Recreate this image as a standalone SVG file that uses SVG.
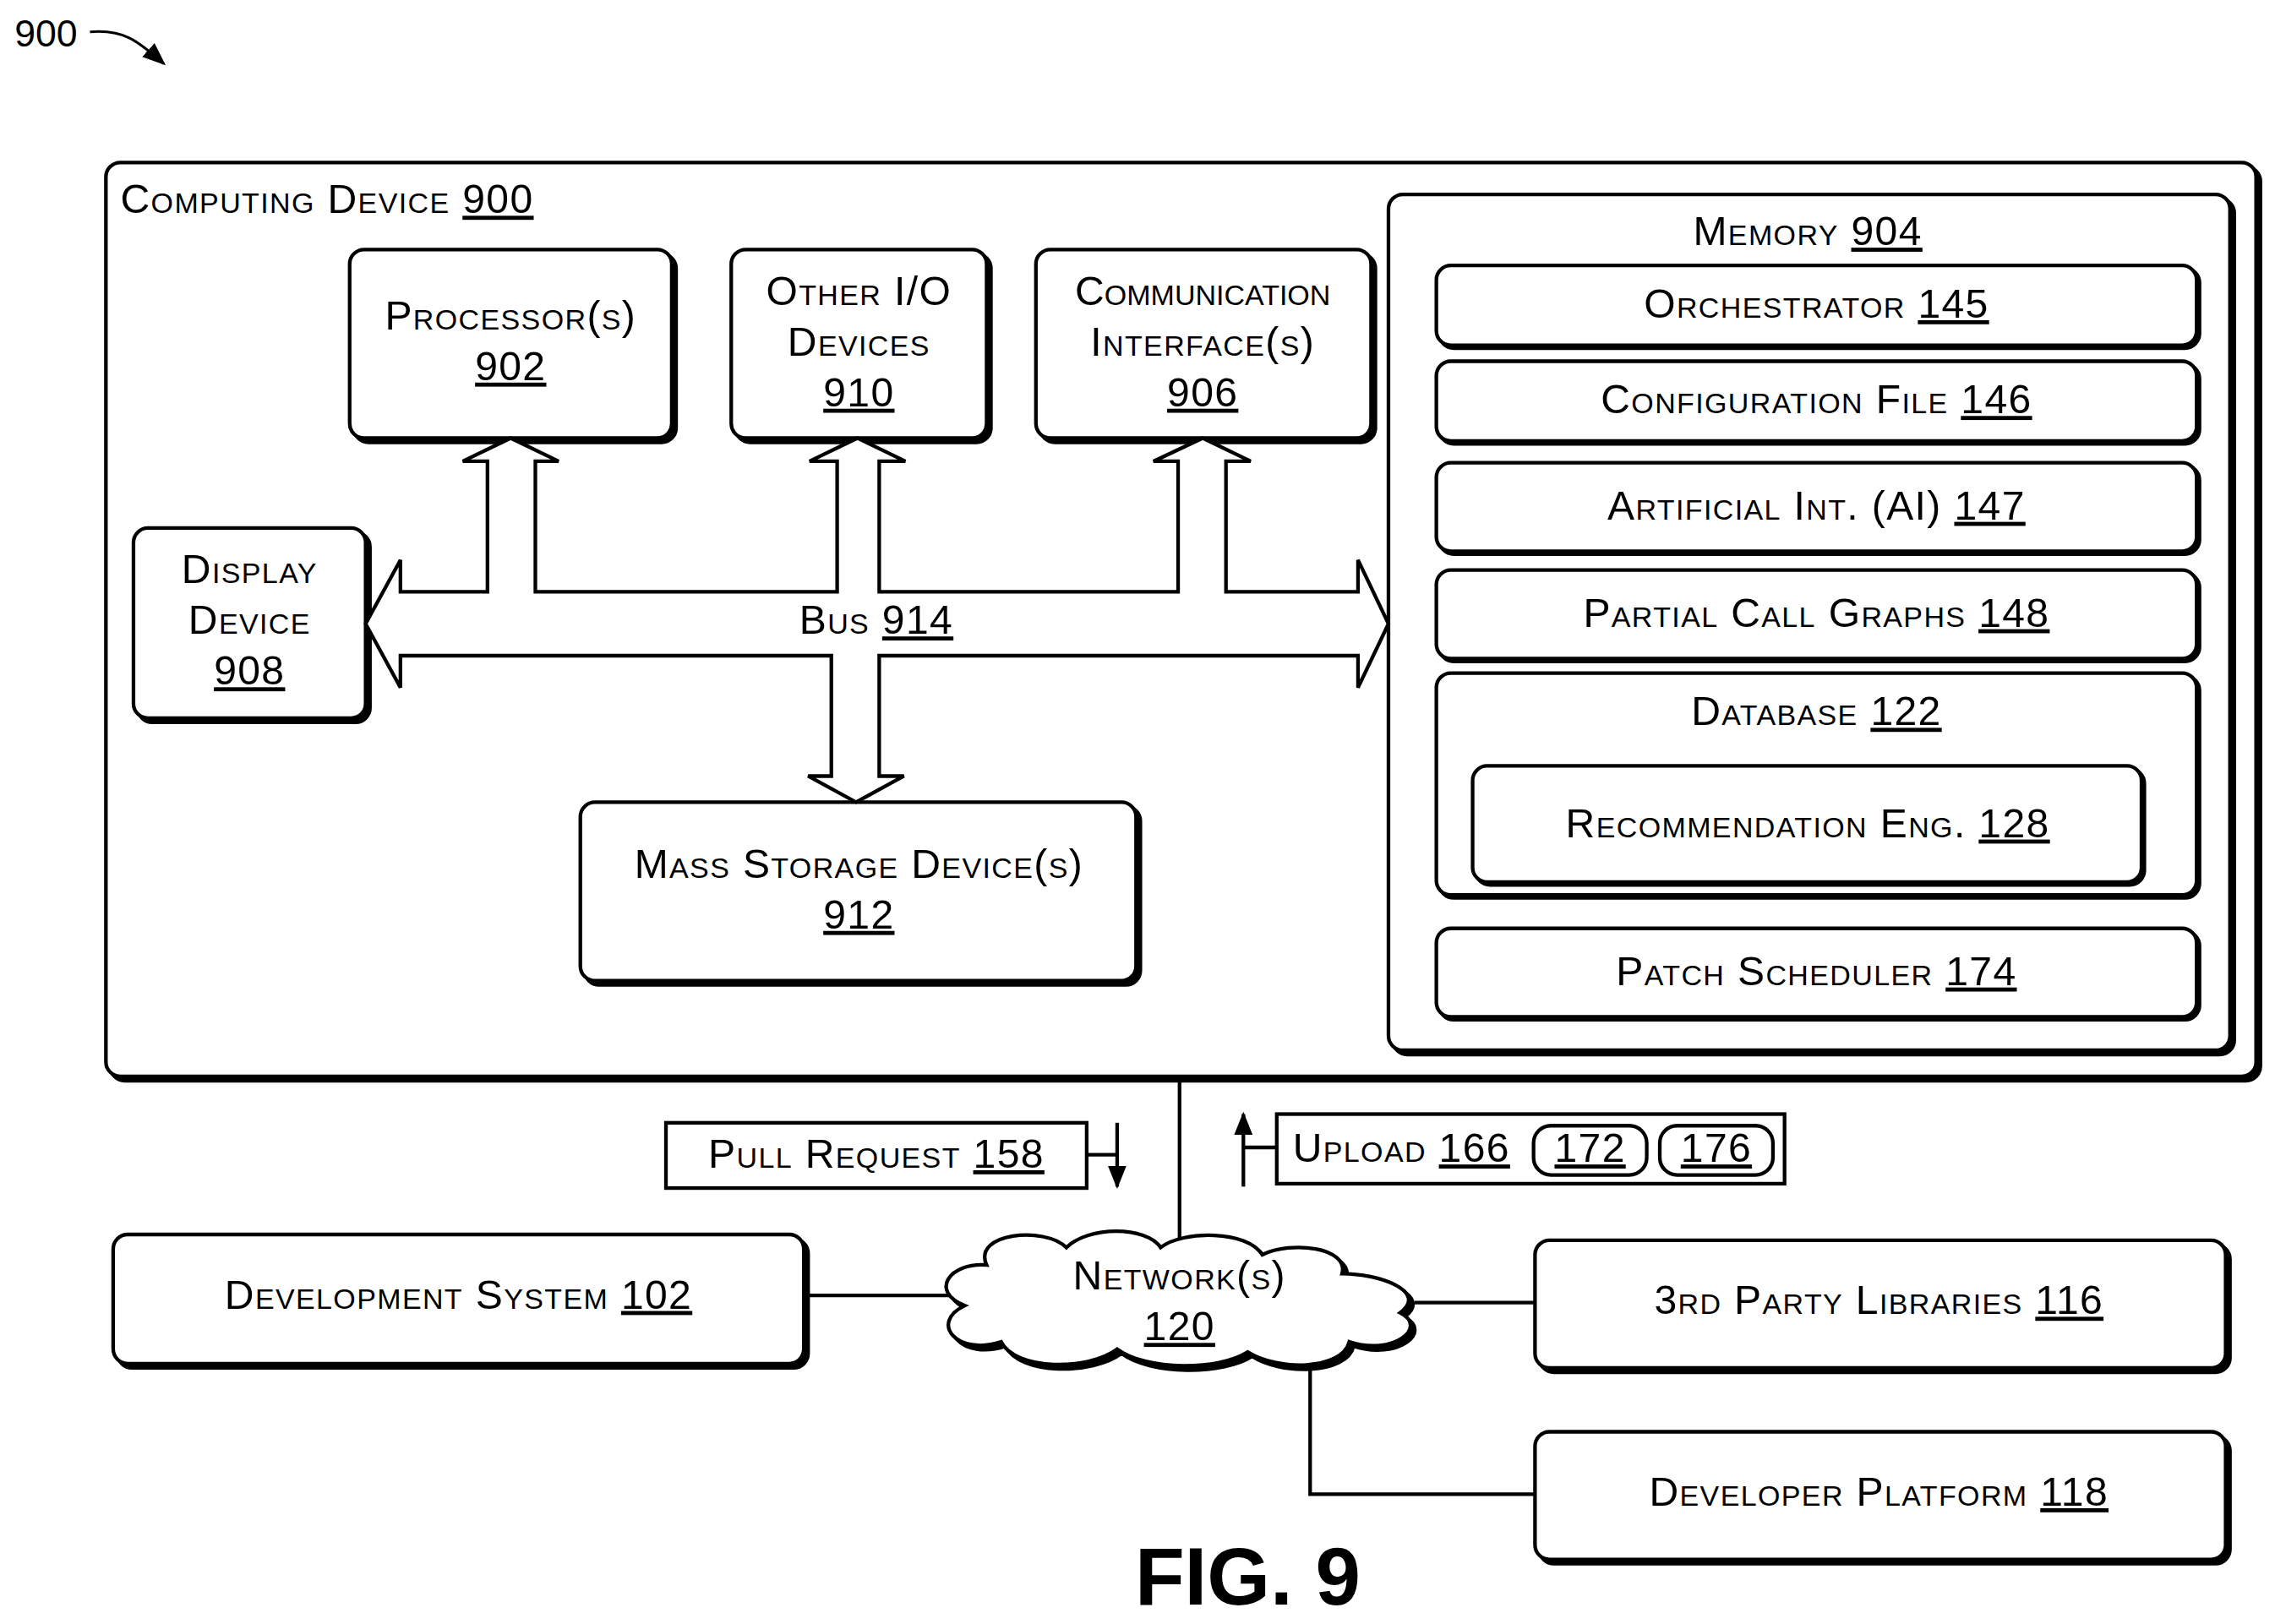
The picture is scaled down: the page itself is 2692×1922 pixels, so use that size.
<svg xmlns="http://www.w3.org/2000/svg" width="2692" height="1922" viewBox="0 0 2692 1922">
<defs>
<style>
.b{fill:#fff;stroke:#000;stroke-width:2.5}
.s{fill:#000;stroke:#000;stroke-width:2.5}
.t{font-family:"Liberation Sans",Arial,sans-serif;font-size:28px;letter-spacing:0.8px;font-variant:small-caps;fill:#000;text-anchor:middle}
.l{text-anchor:start}
.u{text-decoration:underline}
.ln{fill:none;stroke:#000;stroke-width:2.5}
</style>
<marker id="ah2" viewBox="0 0 10 10" refX="9" refY="5" markerWidth="16" markerHeight="16" orient="auto" markerUnits="userSpaceOnUse"><path d="M0,1L10,5L0,9z"/></marker>
</defs>
<rect width="2692" height="1922" fill="#fff"/>
<g transform="scale(1.7168)">
<g id="label900">
<text x="10" y="32" class="t l" style="font-variant:normal;font-size:26px;letter-spacing:0">900</text>
<path d="M62,22 C85,20 95,28 113,44" class="ln" style="stroke-width:1.8" marker-end="url(#ah2)"/>
</g>
<g id="computing">
<rect x="76" y="115" width="1482" height="630" rx="10" class="s"/>
<rect x="73" y="112" width="1482" height="630" rx="10" class="b"/>
<text x="83" y="147" class="t l">Computing Device <tspan class="u">900</tspan></text>
</g>
<g id="processor">
<rect x="244" y="175" width="222" height="130" rx="10" class="s"/>
<rect x="241" y="172" width="222" height="130" rx="10" class="b"/>
<text x="352" y="227" class="t">Processor(s)</text><text x="352" y="262" class="t u">902</text>
</g>
<g id="otherio">
<rect x="507" y="175" width="176" height="130" rx="10" class="s"/>
<rect x="504" y="172" width="176" height="130" rx="10" class="b"/>
<text x="592" y="210" class="t">Other I/O</text><text x="592" y="245" class="t">Devices</text><text x="592" y="280" class="t u">910</text>
</g>
<g id="comm">
<rect x="717" y="175" width="231" height="130" rx="10" class="s"/>
<rect x="714" y="172" width="231" height="130" rx="10" class="b"/>
<text x="829" y="210" class="t" style="letter-spacing:0">Communication</text><text x="829" y="245" class="t">Interface(s)</text><text x="829" y="280" class="t u">906</text>
</g>
<g id="display">
<rect x="95" y="367" width="160" height="131" rx="10" class="s"/>
<rect x="92" y="364" width="160" height="131" rx="10" class="b"/>
<text x="172" y="402" class="t">Display</text><text x="172" y="437" class="t">Device</text><text x="172" y="472" class="t u">908</text>
</g>
<g id="mass">
<rect x="403" y="556" width="383" height="123" rx="10" class="s"/>
<rect x="400" y="553" width="383" height="123" rx="10" class="b"/>
<text x="592" y="605" class="t">Mass Storage Device(s)</text><text x="592" y="640" class="t u">912</text>
</g>
<g id="bus">
<polygon class="b" points="252,430 276,386 276,408 336,408 336,318 319,318 352,302 385,318 369,318 369,408 577,408 577,318 558,318 591,302 624,318 606,318 606,408 812,408 812,318 795,318 829,302 862,318 845,318 845,408 936,408 936,386 957,430 936,474 936,452 606,452 606,535 623,535 590,553 557,535 573,535 573,452 276,452 276,474"/>
<text x="604" y="437" class="t">Bus <tspan class="u">914</tspan></text>
</g>
<g id="memory">
<rect x="960" y="137" width="580" height="590" rx="10" class="s"/>
<rect x="957" y="134" width="580" height="590" rx="10" class="b"/>
<text x="1246" y="169" class="t">Memory <tspan class="u">904</tspan></text>
</g>
<g id="orch">
<rect x="992" y="185" width="524" height="55" rx="10" class="s"/>
<rect x="990" y="183" width="524" height="55" rx="10" class="b"/>
<text x="1252" y="219" class="t">Orchestrator <tspan class="u">145</tspan></text>
</g>
<g id="config">
<rect x="992" y="251" width="524" height="55" rx="10" class="s"/>
<rect x="990" y="249" width="524" height="55" rx="10" class="b"/>
<text x="1252" y="285" class="t">Configuration File <tspan class="u">146</tspan></text>
</g>
<g id="ai">
<rect x="992" y="321" width="524" height="61" rx="10" class="s"/>
<rect x="990" y="319" width="524" height="61" rx="10" class="b"/>
<text x="1252" y="358" class="t">Artificial Int. (AI) <tspan class="u">147</tspan></text>
</g>
<g id="partial">
<rect x="992" y="395" width="524" height="61" rx="10" class="s"/>
<rect x="990" y="393" width="524" height="61" rx="10" class="b"/>
<text x="1252" y="432" class="t">Partial Call Graphs <tspan class="u">148</tspan></text>
</g>
<g id="database">
<rect x="992" y="466" width="524" height="153" rx="10" class="s"/>
<rect x="990" y="464" width="524" height="153" rx="10" class="b"/>
<text x="1252" y="500" class="t">Database <tspan class="u">122</tspan></text>
</g>
<g id="recommend">
<rect x="1017" y="530" width="461" height="80" rx="10" class="s"/>
<rect x="1015" y="528" width="461" height="80" rx="10" class="b"/>
<text x="1246" y="577" class="t">Recommendation Eng. <tspan class="u">128</tspan></text>
</g>
<g id="patch">
<rect x="992" y="642" width="524" height="61" rx="10" class="s"/>
<rect x="990" y="640" width="524" height="61" rx="10" class="b"/>
<text x="1252" y="679" class="t">Patch Scheduler <tspan class="u">174</tspan></text>
</g>
<g id="connectors">
<line x1="813" y1="742" x2="813" y2="858" class="ln"/>
<line x1="554" y1="893" x2="655" y2="893" class="ln"/>
<line x1="975" y1="898" x2="1058" y2="898" class="ln"/>
<polyline points="903,940 903,1030 1058,1030" class="ln"/>
<polyline points="749,796 770,796" class="ln"/>
<line x1="770" y1="774" x2="770" y2="818" class="ln" marker-end="url(#ah2)"/>
<line x1="857" y1="791" x2="880" y2="791" class="ln"/>
<line x1="857" y1="818" x2="857" y2="768" class="ln" marker-end="url(#ah2)"/>
</g>
<g id="pull">
<rect x="459" y="774" width="290" height="45" class="b"/>
<text x="604" y="805" class="t">Pull Request <tspan class="u">158</tspan></text>
</g>
<g id="upload">
<rect x="880" y="768" width="350" height="48" class="b"/>
<text x="891" y="801" class="t l">Upload <tspan class="u">166</tspan></text>
<rect x="1057" y="776" width="78" height="34" rx="12" class="b"/>
<text x="1096" y="801" class="t u">172</text>
<rect x="1144" y="776" width="78" height="34" rx="12" class="b"/>
<text x="1183" y="801" class="t u">176</text>
</g>
<g id="devsys">
<rect x="81" y="854" width="476" height="89" rx="10" class="s"/>
<rect x="78" y="851" width="476" height="89" rx="10" class="b"/>
<text x="316" y="902" class="t">Development System <tspan class="u">102</tspan></text>
</g>
<g id="network">
<path transform="translate(3,3)" class="s" d="M680,872 C670,850 720,845 735,860 C750,845 790,845 800,860 C815,848 860,848 870,865 C890,855 930,860 925,878 C950,878 985,890 965,905 C985,915 960,935 930,925 C925,945 880,945 860,932 C840,945 790,945 770,930 C750,945 700,945 690,925 C660,935 640,912 665,900 C640,890 655,870 680,872 Z"/>
<path class="b" d="M680,872 C670,850 720,845 735,860 C750,845 790,845 800,860 C815,848 860,848 870,865 C890,855 930,860 925,878 C950,878 985,890 965,905 C985,915 960,935 930,925 C925,945 880,945 860,932 C840,945 790,945 770,930 C750,945 700,945 690,925 C660,935 640,912 665,900 C640,890 655,870 680,872 Z"/>
<text x="813" y="889" class="t">Network(s)</text><text x="813" y="924" class="t u">120</text>
</g>
<g id="thirdparty">
<rect x="1061" y="858" width="476" height="88" rx="10" class="s"/>
<rect x="1058" y="855" width="476" height="88" rx="10" class="b"/>
<text x="1295" y="906" class="t">3rd Party Libraries <tspan class="u">116</tspan></text>
</g>
<g id="devplatform">
<rect x="1061" y="990" width="476" height="88" rx="10" class="s"/>
<rect x="1058" y="987" width="476" height="88" rx="10" class="b"/>
<text x="1295" y="1038" class="t">Developer Platform <tspan class="u">118</tspan></text>
</g>
<text x="860" y="1106" class="t" style="font-variant:normal;font-weight:bold;font-size:56px;letter-spacing:0">FIG. 9</text>
</g>
</svg>
